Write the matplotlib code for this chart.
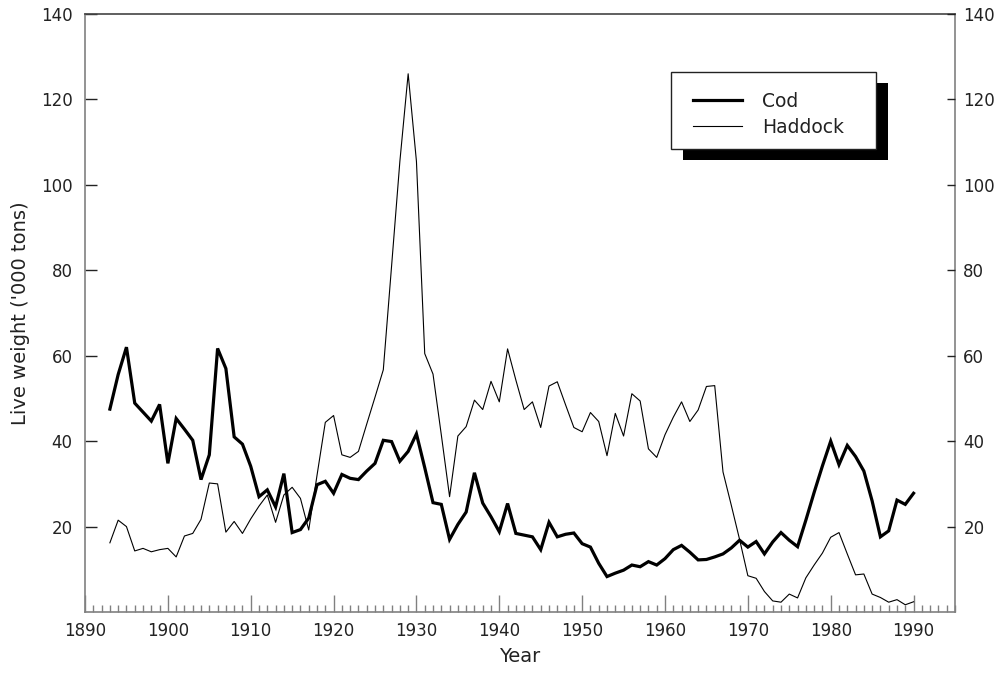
"""Cod and haddock landings, 1893-1990"""

import numpy as np
import matplotlib
matplotlib.use("Agg")
import matplotlib.pyplot as plt
from matplotlib.patches import Rectangle
from matplotlib.ticker import MultipleLocator

plt.rcParams["font.family"] = ["DejaVu Sans"]

years = np.arange(1893, 1991)

cod = [
    47.5, 55.6, 62.0, 48.9, 46.8, 44.7, 48.6, 34.8, 45.3, 42.8,   # 1893-1902
    40.2, 31.0, 36.8, 61.7, 57.0, 41.0, 39.3, 34.1, 27.0, 28.6,   # 1903-1912
    24.6, 32.4, 18.6, 19.3, 22.0, 29.8, 30.6, 27.8, 32.2, 31.3,   # 1913-1922
    31.0, 33.0, 34.8, 40.2, 39.9, 35.3, 37.6, 41.7, 33.8, 25.6,   # 1923-1932
    25.2, 17.0, 20.5, 23.4, 32.6, 25.5, 22.3, 18.8, 25.4, 18.4,   # 1933-1942
    18.0, 17.6, 14.6, 21.0, 17.6, 18.2, 18.5, 16.0, 15.2, 11.4,   # 1943-1952
    8.3, 9.1, 9.8, 11.0, 10.6, 11.8, 11.0, 12.5, 14.6, 15.6,      # 1953-1962
    14.0, 12.2, 12.3, 12.9, 13.6, 15.0, 16.8, 15.2, 16.5, 13.6,   # 1963-1972
    16.4, 18.6, 16.8, 15.3, 21.5, 28.0, 34.2, 40.0, 34.5, 39.0,   # 1973-1982
    36.4, 33.0, 26.0, 17.6, 19.0, 26.2, 25.2, 27.8,               # 1983-1990
]

haddock = [
    16.2, 21.5, 20.0, 14.3, 14.9, 14.1, 14.6, 14.9, 12.9, 17.8,   # 1893-1902
    18.4, 21.7, 30.2, 30.0, 18.7, 21.2, 18.4, 21.8, 24.8, 27.4,   # 1903-1912
    21.0, 27.4, 29.2, 26.6, 19.2, 32.0, 44.4, 46.0, 36.8, 36.2,   # 1913-1922
    37.6, 44.0, 50.3, 56.7, 81.0, 105.5, 126.0, 105.5, 60.5, 55.7,  # 1923-1932
    41.5, 27.0, 41.2, 43.4, 49.6, 47.4, 54.0, 49.2, 61.6, 54.3,   # 1933-1942
    47.4, 49.2, 43.2, 52.9, 53.9, 48.5, 43.2, 42.2, 46.7, 44.6,   # 1943-1952
    36.6, 46.5, 41.2, 51.1, 49.4, 38.2, 36.2, 41.5, 45.6, 49.2,   # 1953-1962
    44.6, 47.3, 52.8, 53.0, 32.8, 25.0, 17.0, 8.5, 7.9, 4.8,      # 1963-1972
    2.6, 2.3, 4.2, 3.3, 8.0, 11.0, 13.8, 17.5, 18.6, 13.6,        # 1973-1982
    8.7, 8.9, 4.2, 3.4, 2.3, 2.9, 1.7, 2.4,                       # 1983-1990
]

year_ticks = np.arange(1890, 2000, 10)
weight_ticks = np.arange(20, 141, 20)

fig = plt.figure(figsize=(9.98, 6.75), dpi=100)
ax = fig.add_axes([0.0852, 0.0933, 0.8717, 0.886])

ax.plot(years, cod, color="black", lw=2.3, solid_joinstyle="miter", label="Cod", zorder=3)
ax.plot(years, haddock, color="black", lw=0.8, label="Haddock", zorder=2)

ax.set_xlim(1890, 1995)
ax.set_ylim(0, 140)
ax.set_xticks(year_ticks)
ax.xaxis.set_minor_locator(MultipleLocator(1))
ax.set_yticks(weight_ticks)

grey = "#808080"
txt = "#222222"
for s in ax.spines.values():
    s.set_color(grey)
    s.set_linewidth(1.2)
ax.spines["top"].set_color("#444444")

ax.tick_params(axis="x", which="major", direction="in", length=12.5, width=1.0,
               color=grey, labelsize=12, labelcolor=txt, pad=7)
ax.tick_params(axis="x", which="minor", direction="in", length=5.3, width=1.0, color=grey)
ax.tick_params(axis="y", direction="in", length=8.5, width=1.0, color=txt,
               labelsize=12, labelcolor=txt, pad=9)

# same scale repeated on the right-hand side
ax2 = ax.twinx()
ax2.set_ylim(ax.get_ylim())
ax2.set_yticks(weight_ticks)
ax2.tick_params(axis="y", direction="in", length=5.8, width=1.0, color=txt,
                labelsize=12, labelcolor=txt, pad=6)
for s in ax2.spines.values():
    s.set_visible(False)

ax.set_xlabel("Year", fontsize=14, color=txt, labelpad=5)
ax.set_ylabel("Live weight ('000 tons)", fontsize=14, color=txt, labelpad=8)

# legend box with a solid drop shadow (axes fractions)
bx, by, bw, bh = 0.6736, 0.774, 0.2356, 0.1288
dx, dy = 12 / 870, -11 / 598
ax2.add_patch(Rectangle((bx + dx, by + dy), bw, bh, transform=ax2.transAxes,
                        facecolor="black", edgecolor="none", zorder=4))
ax2.add_patch(Rectangle((bx, by), bw, bh, transform=ax2.transAxes,
                        facecolor="white", edgecolor=txt, lw=1.0, zorder=5))
leg = ax2.legend(handles=ax.get_lines(), loc="center left",
                 bbox_to_anchor=(bx + 22 / 870, 0.832), borderaxespad=0, borderpad=0,
                 frameon=False, fontsize=13.5, handlelength=2.6, handletextpad=1.1,
                 labelspacing=0.38)
for t in leg.get_texts():
    t.set_color(txt)
leg.set_zorder(6)

fig.savefig("out.png", dpi=100)
plt.close(fig)
